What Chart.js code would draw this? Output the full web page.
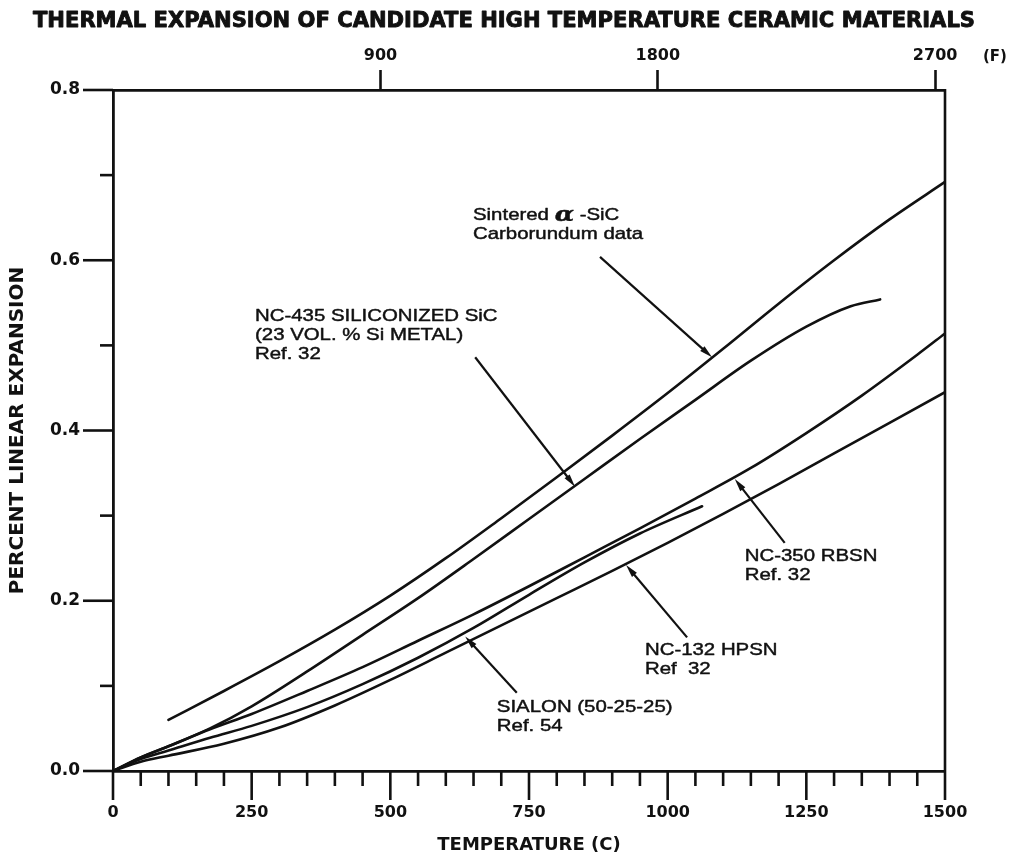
<!DOCTYPE html>
<html>
<head>
<meta charset="utf-8">
<script src="https://cdn.jsdelivr.net/npm/chart.js@4.4.1/dist/chart.umd.min.js"></script>
<style>
  html, body { margin: 0; padding: 0; background: #ffffff; }
  canvas { display: block; }
</style>
</head>
<body>
<canvas id="chart" width="1016" height="859"></canvas>
<script>
// ---- text ----
const chartTitle = 'THERMAL EXPANSION OF CANDIDATE HIGH TEMPERATURE CERAMIC MATERIALS';
const xAxisTitle = 'TEMPERATURE (C)';
const yAxisTitle = 'PERCENT LINEAR EXPANSION';
const fahrenheitTicks = [900, 1800, 2700];
const fahrenheitUnit = '(F)';

// ---- axis ranges (Celsius / percent) ----
const tempRange = [0, 1500];
const pctRange = [0, 0.8];

// ---- curves: temperature (C) and percent linear expansion ----
const sinteredTemp = [100, 200, 300, 400, 500, 600, 700, 800, 900, 1000, 1100, 1200, 1300, 1400, 1500];
const sinteredPct  = [0.060, 0.094, 0.129, 0.166, 0.206, 0.250, 0.297, 0.345, 0.394, 0.444, 0.496, 0.549, 0.600, 0.648, 0.692];

const nc435Temp = [0, 50, 100, 175, 250, 350, 450, 550, 650, 750, 850, 950, 1050, 1150, 1250, 1330, 1383];
const nc435Pct  = [0, 0.016, 0.029, 0.050, 0.076, 0.117, 0.160, 0.203, 0.249, 0.296, 0.343, 0.390, 0.436, 0.482, 0.522, 0.546, 0.554];

const rbsnTemp = [0, 50, 100, 175, 250, 350, 450, 550, 650, 750, 850, 950, 1050, 1150, 1250, 1350, 1450, 1500];
const rbsnPct  = [0, 0.016, 0.029, 0.049, 0.067, 0.094, 0.122, 0.153, 0.184, 0.217, 0.251, 0.285, 0.320, 0.356, 0.397, 0.441, 0.489, 0.514];

const hpsnTemp = [0, 50, 100, 200, 300, 400, 500, 600, 700, 800, 900, 1000, 1100, 1200, 1300, 1400, 1500];
const hpsnPct  = [0, 0.011, 0.018, 0.032, 0.051, 0.077, 0.107, 0.139, 0.171, 0.203, 0.235, 0.268, 0.302, 0.337, 0.373, 0.409, 0.445];

const sialonTemp = [0, 50, 100, 175, 250, 350, 450, 550, 650, 750, 850, 950, 1062];
const sialonPct  = [0, 0.014, 0.024, 0.039, 0.053, 0.075, 0.102, 0.133, 0.168, 0.207, 0.245, 0.279, 0.311];

const seriesNames = ['Sintered α-SiC', 'NC-435', 'NC-350 RBSN', 'NC-132 HPSN', 'SIALON'];

const INK = '#111111';
const HEAVY = '"DejaVu Sans", "Liberation Sans", sans-serif';
const PLAIN = '"Liberation Sans", Arial, sans-serif';

const toPoints = (xs, ys) => xs.map((x, i) => ({ x, y: ys[i] }));

function curve(label, xs, ys) {
  return {
    label,
    data: toPoints(xs, ys),
    borderColor: INK,
    borderWidth: 2.6,
    borderCapStyle: 'round',
    borderJoinStyle: 'round',
    pointRadius: 0,
    fill: false,
    cubicInterpolationMode: 'monotone',
    xAxisID: 'x',
    yAxisID: 'y'
  };
}

// Tick marks below / left of the frame: long at labelled values, short in between,
// plus the closing right-hand edge of the frame.
const frameTicks = {
  id: 'frameTicks',
  afterDraw(chart) {
    const { ctx, chartArea: a, scales } = chart;
    ctx.save();
    ctx.strokeStyle = INK;
    ctx.lineWidth = 2.6;
    const seg = (x1, y1, x2, y2) => { ctx.beginPath(); ctx.moveTo(x1, y1); ctx.lineTo(x2, y2); ctx.stroke(); };
    scales.x.ticks.forEach(t => {
      const px = scales.x.getPixelForValue(t.value);
      const major = Math.round(t.value) % 250 === 0;
      seg(px, a.bottom, px, a.bottom + (major ? 29 : 15));
    });
    scales.y.ticks.forEach(t => {
      const py = scales.y.getPixelForValue(t.value);
      const major = Math.round(t.value * 10) % 2 === 0;
      seg(a.left, py, a.left - (major ? 30 : 13), py);
    });
    seg(a.right, a.top - 1, a.right, a.bottom);
    ctx.restore();
  }
};

// Heading, unit of the upper scale and the labelled arrows pointing at each curve.
const notes = {
  id: 'notes',
  afterDraw(chart, args, opts) {
    const { ctx, scales } = chart;
    const X = v => scales.x.getPixelForValue(v);
    const Y = v => scales.y.getPixelForValue(v);
    ctx.save();
    ctx.fillStyle = INK;
    ctx.strokeStyle = INK;
    ctx.lineJoin = 'round';

    // heading, set in a heavy face and fitted to its line length
    ctx.font = 'bold 21px ' + HEAVY;
    ctx.textBaseline = 'middle';
    ctx.textAlign = 'left';
    const w = ctx.measureText(chartTitle).width;
    ctx.save();
    ctx.translate(opts.titleLeft, opts.titleY);
    ctx.scale(opts.titleWidth / w, 1);
    ctx.lineWidth = 0.9;
    ctx.fillText(chartTitle, 0, 0);
    ctx.strokeText(chartTitle, 0, 0);
    ctx.restore();

    // unit of the Fahrenheit scale
    ctx.font = 'bold 15px ' + HEAVY;
    ctx.fillText(fahrenheitUnit, opts.unitX, opts.unitY);

    // callouts
    opts.callouts.forEach(c => {
      const x0 = X(c.at[0]), y0 = Y(c.at[1]);
      c.lines.forEach((line, i) => {
        let x = x0;
        const y = y0 + i * opts.lineGap;
        const parts = Array.isArray(line) ? line : [line];
        parts.forEach(p => {
          const txt = typeof p === 'string' ? p : p.text;
          const font = typeof p === 'string' ? opts.noteFont : p.font;
          ctx.font = font;
          ctx.save();
          ctx.translate(x, y + (p.dy || 0));
          ctx.scale(opts.stretch, 1);
          ctx.lineWidth = 0.45;
          ctx.fillText(txt, 0, 0);
          ctx.strokeText(txt, 0, 0);
          ctx.restore();
          x += ctx.measureText(txt).width * opts.stretch;
        });
      });
      // arrow
      const tx = X(c.tail[0]), ty = Y(c.tail[1]);
      const hx = X(c.tip[0]), hy = Y(c.tip[1]);
      const ang = Math.atan2(hy - ty, hx - tx);
      const head = 13, half = 3.2;
      ctx.lineWidth = 2.2;
      ctx.beginPath();
      ctx.moveTo(tx, ty);
      ctx.lineTo(hx - Math.cos(ang) * head * 0.6, hy - Math.sin(ang) * head * 0.6);
      ctx.stroke();
      ctx.beginPath();
      ctx.moveTo(hx, hy);
      ctx.lineTo(hx - Math.cos(ang) * head - Math.sin(ang) * half, hy - Math.sin(ang) * head + Math.cos(ang) * half);
      ctx.lineTo(hx - Math.cos(ang) * head + Math.sin(ang) * half, hy - Math.sin(ang) * head - Math.cos(ang) * half);
      ctx.closePath();
      ctx.fill();
    });
    ctx.restore();
  }
};

const toF = c => c * 9 / 5 + 32;

new Chart(document.getElementById('chart'), {
  type: 'line',
  data: {
    datasets: [
      curve(seriesNames[0], sinteredTemp, sinteredPct),
      curve(seriesNames[1], nc435Temp, nc435Pct),
      curve(seriesNames[2], rbsnTemp, rbsnPct),
      curve(seriesNames[3], hpsnTemp, hpsnPct),
      curve(seriesNames[4], sialonTemp, sialonPct)
    ]
  },
  options: {
    responsive: false,
    animation: false,
    devicePixelRatio: 1,
    layout: { padding: { left: 0, right: 71, top: 0, bottom: 0 } },
    plugins: {
      legend: { display: false },
      title: { display: false },
      tooltip: { enabled: false },
      notes: {
        titleLeft: 33, titleY: 22, titleWidth: 942,
        unitX: 983, unitY: 57,
        noteFont: '17px ' + PLAIN,
        stretch: 1.2,
        lineGap: 19,
        callouts: [
          { lines: [['Sintered ', { text: 'α', font: 'bold italic 21px "DejaVu Serif", serif', dy: 0 }, ' -SiC'], 'Carborundum data'],
            at: [649, 0.653], tail: [878, 0.604], tip: [1080, 0.486] },
          { lines: ['NC-435 SILICONIZED SiC', '(23 VOL. % Si METAL)', 'Ref. 32'],
            at: [256, 0.534], tail: [653, 0.486], tip: [833, 0.334] },
          { lines: ['NC-350 RBSN', 'Ref. 32'],
            at: [1139, 0.2525], tail: [1211, 0.268], tip: [1121, 0.343] },
          { lines: ['NC-132 HPSN', 'Ref  32'],
            at: [959, 0.142], tail: [1035, 0.157], tip: [925, 0.242] },
          { lines: ['SIALON (50-25-25)', 'Ref. 54'],
            at: [692, 0.075], tail: [728, 0.092], tip: [635, 0.158] }
        ]
      }
    },
    scales: {
      x: {
        type: 'linear',
        position: 'bottom',
        min: tempRange[0], max: tempRange[1],
        afterFit: s => { s.height = 88; },
        afterBuildTicks: s => {
          const t = [];
          for (let v = tempRange[0]; v <= tempRange[1]; v += 50) t.push({ value: v });
          s.ticks = t;
        },
        ticks: {
          autoSkip: false, maxRotation: 0, minRotation: 0, padding: 32,
          color: INK,
          font: { family: HEAVY, size: 16, weight: 'bold' },
          callback: v => (Math.round(v) % 250 === 0 ? String(Math.round(v)) : '')
        },
        grid: { display: false, drawTicks: false },
        border: { display: true, color: INK, width: 2.8 },
        title: {
          display: true, text: xAxisTitle, color: INK,
          font: { family: HEAVY, size: 18, weight: 'bold' },
          padding: { top: 0, bottom: 3 }
        }
      },
      xF: {
        type: 'linear',
        position: 'top',
        min: toF(tempRange[0]), max: toF(tempRange[1]),
        afterFit: s => { s.height = 90; },
        afterBuildTicks: s => { s.ticks = fahrenheitTicks.map(v => ({ value: v })); },
        ticks: {
          autoSkip: false, maxRotation: 0, padding: 5, color: INK,
          font: { family: HEAVY, size: 16, weight: 'bold' },
          callback: v => String(v)
        },
        grid: { display: true, drawOnChartArea: false, drawTicks: true, tickLength: 20, tickWidth: 2.6, tickColor: INK },
        border: { display: true, color: INK, width: 2.8 }
      },
      y: {
        type: 'linear',
        position: 'left',
        min: pctRange[0], max: pctRange[1],
        afterFit: s => { s.width = 113; },
        afterBuildTicks: s => {
          const t = [];
          for (let i = 0; i <= 8; i++) t.push({ value: i / 10 });
          s.ticks = t;
        },
        ticks: {
          autoSkip: false, padding: 33, color: INK,
          font: { family: HEAVY, size: 17, weight: 'bold' },
          callback: v => (Math.round(v * 10) % 2 === 0 ? v.toFixed(1) : '')
        },
        grid: { display: false, drawTicks: false },
        border: { display: true, color: INK, width: 2.8 },
        title: {
          display: true, text: yAxisTitle, color: INK,
          font: { family: HEAVY, size: 20, weight: 'bold' },
          padding: { top: 6, bottom: 0 }
        }
      }
    }
  },
  plugins: [frameTicks, notes]
});
</script>
</body>
</html>
